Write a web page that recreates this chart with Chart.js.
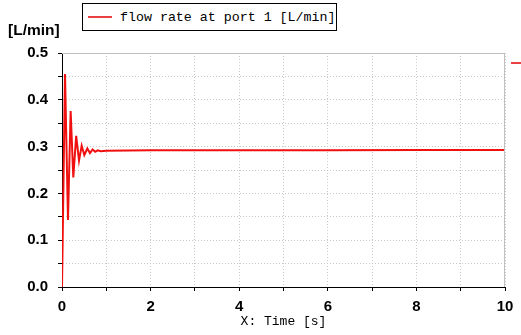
<!DOCTYPE html>
<html>
<head>
<meta charset="utf-8">
<script src="https://cdn.jsdelivr.net/npm/chart.js@4/dist/chart.umd.min.js"></script>
<style>
  html, body { margin: 0; padding: 0; background: #fff; }
  #wrap { position: relative; width: 521px; height: 335px; }
  #legend {
    position: absolute; left: 82px; top: 3px; width: 253px; height: 26px;
    border: 1px solid #000; background: #fff;
    font-family: "Liberation Mono", "DejaVu Sans Mono", monospace; font-size: 13.3px;
    display: flex; align-items: center;
  }
  #legend .swatch { width: 24px; height: 2px; background: #e84040; margin: 0 8px 0 5px; }
  #stub { position: absolute; left: 511px; top: 62px; width: 10px; height: 2px; background: #e84040; }
  #ytitle {
    position: absolute; left: 8px; top: 21px;
    font-family: "Liberation Sans", Arial, sans-serif; font-weight: bold; font-size: 15.5px;
  }
  #xtitle {
    position: absolute; left: 62px; width: 443px; top: 314px; text-align: center;
    font-family: "Liberation Mono", "DejaVu Sans Mono", monospace; font-size: 13px;
  }
</style>
</head>
<body>
<div id="wrap">
  <canvas id="chart" width="521" height="335"></canvas>
  <div id="legend"><span class="swatch"></span><span>flow rate at port 1 [L/min]</span></div>
  <div id="stub"></div>
  <div id="ytitle">[L/min]</div>
  <div id="xtitle">X: Time [s]</div>
</div>
<script>
const seriesName = 'flow rate at port 1 [L/min]';
const timeS = [0, 0.068, 0.135, 0.195, 0.255, 0.32, 0.384, 0.444, 0.504, 0.572, 0.632, 0.69, 0.75, 0.81, 0.87, 1.0, 2, 4, 6, 8, 10];
const flowRate = [0, 0.455, 0.143, 0.376, 0.234, 0.323, 0.270, 0.302, 0.282, 0.296, 0.286, 0.294, 0.289, 0.292, 0.290, 0.291, 0.292, 0.292, 0.292, 0.293, 0.293];

// gray frame on top and right of plot area
const frame = {
    id: 'frame',
    afterDraw(chart) {
        const a = chart.chartArea, c = chart.ctx;
        c.save();
        c.strokeStyle = '#c0c0c0';
        c.lineWidth = 1;
        c.beginPath();
        c.moveTo(a.left, a.top + 0.5);
        c.lineTo(a.right - 0.5, a.top + 0.5);
        c.lineTo(a.right - 0.5, a.bottom);
        c.stroke();
        c.restore();
    }
};

const tickFont = { family: '"Liberation Sans", Arial, sans-serif', weight: 'bold', size: 15 };

new Chart(document.getElementById('chart').getContext('2d'), {
    type: 'line',
    data: {
        datasets: [{
            label: seriesName,
            data: timeS.map((t, i) => ({ x: t, y: flowRate[i] })),
            borderColor: '#f01010',
            borderWidth: 2,
            pointRadius: 0,
            tension: 0
        }]
    },
    options: {
        responsive: false,
        animation: false,
        layout: { padding: { top: 53, right: 16, left: 0, bottom: 0 } },
        plugins: { legend: { display: false }, tooltip: { enabled: false } },
        scales: {
            x: {
                type: 'linear', min: 0, max: 10,
                afterFit: s => { s.height = 48; },
                ticks: {
                    stepSize: 1, color: '#000', font: tickFont, padding: 7, maxRotation: 0,
                    callback: v => (v % 2 === 0 ? v : '')
                },
                grid: { color: '#c8c8c8', tickColor: '#000', tickLength: 4, tickBorderDash: [] },
                border: { color: '#000', width: 1, dash: [1, 2] }
            },
            y: {
                min: 0, max: 0.5,
                afterFit: s => { s.width = 62; },
                ticks: {
                    stepSize: 0.05, color: '#000', font: tickFont, padding: 10,
                    callback: v => (Math.abs(Math.round(v * 10) - v * 10) < 1e-6 ? v.toFixed(1) : '')
                },
                grid: { color: '#c8c8c8', tickColor: '#000', tickLength: 4, tickBorderDash: [] },
                border: { color: '#000', width: 1, dash: [1, 2] }
            }
        }
    },
    plugins: [frame]
});
</script>
</body>
</html>
